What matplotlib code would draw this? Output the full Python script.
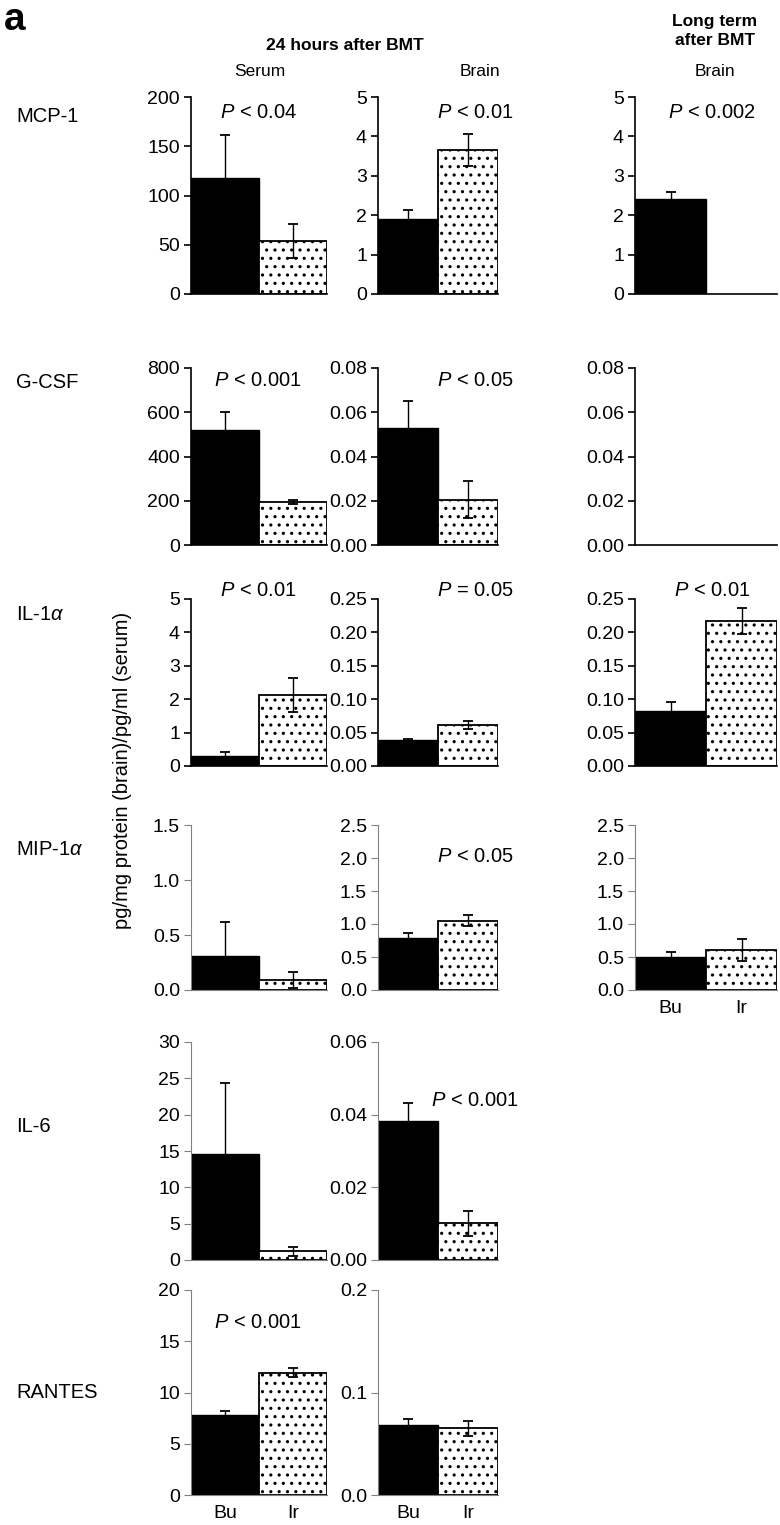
import numpy as np
import matplotlib
matplotlib.use("Agg")
import matplotlib.pyplot as plt

plt.rcParams['font.family'] = ['Liberation Sans', 'DejaVu Sans']
plt.rcParams['mathtext.fontset'] = 'custom'
plt.rcParams['mathtext.rm'] = 'Liberation Sans'
plt.rcParams['mathtext.it'] = 'Liberation Sans:italic'
plt.rcParams['hatch.linewidth'] = 1.1

# Data; order: MCP-1, G-CSF, IL-1a, MIP-1a, IL-6, RANTES
cytokines = ['MCP-1', 'G-CSF', r'IL-1$\alpha$', r'MIP-1$\alpha$', 'IL-6', 'RANTES']
groups = ['Bu', 'Ir']

serum_bu = [118, 520, 0.30, 0.31, 14.6, 7.8]
serum_bu_err = [43, 80, 0.12, 0.31, 9.8, 0.4]
serum_ir = [54, 195, 2.12, 0.09, 1.2, 11.95]
serum_ir_err = [17, 8, 0.50, 0.075, 0.6, 0.45]

brain_bu = [1.9, 0.053, 0.039, 0.79, 0.0383, 0.068]
brain_bu_err = [0.23, 0.012, 0.002, 0.08, 0.005, 0.006]
brain_ir = [3.65, 0.0205, 0.061, 1.05, 0.0101, 0.065]
brain_ir_err = [0.40, 0.0085, 0.006, 0.08, 0.0035, 0.007]

# long term (brain) only first four cytokines; None = no bar
lt_bu = [2.42, None, 0.083, 0.50]
lt_bu_err = [0.18, None, 0.013, 0.08]
lt_ir = [0.0, None, 0.217, 0.61]
lt_ir_err = [0.0, None, 0.019, 0.17]

serum_p = ['< 0.04', '< 0.001', '< 0.01', None, None, '< 0.001']
brain_p = ['< 0.01', '< 0.05', '= 0.05', '< 0.05', '< 0.001', None]
lt_p = ['< 0.002', None, '< 0.01', None]

# y-axis setup per panel: (max, step, format)
serum_axes = [(200, 50, '{:.0f}'), (800, 200, '{:.0f}'), (5, 1, '{:.0f}'),
              (1.5, 0.5, '{:.1f}'), (30, 5, '{:.0f}'), (20, 5, '{:.0f}')]
brain_axes = [(5, 1, '{:.0f}'), (0.08, 0.02, '{:.2f}'), (0.25, 0.05, '{:.2f}'),
              (2.5, 0.5, '{:.1f}'), (0.06, 0.02, '{:.2f}'), (0.2, 0.1, '{:.1f}')]
lt_axes = [(5, 1, '{:.0f}'), (0.08, 0.02, '{:.2f}'), (0.25, 0.05, '{:.2f}'),
           (2.5, 0.5, '{:.1f}')]

W, H = 780, 1525
fig = plt.figure(figsize=(W / 100, H / 100), dpi=100)

col_x = [(191, 327), (378, 498), (635, 777)]
row_y = [(97, 294), (368, 545), (599, 766), (825, 990), (1042, 1260), (1290, 1495)]
row_label_y = [117, 382, 614, 850, 1127, 1392]
p_y = [112, 380, 590, 856, 1100, 1322]
TICK_FS = 14
LABEL_FS = 14.5
P_FS = 14.5
HEAD_FS = 12.5


def panel(ax, bu, bu_err, ir, ir_err, spec, r, bottom):
    ymax, step, fmt = spec
    dark = r < 3
    spine_col = 'black' if dark else '#808080'
    lw = 1.2 if dark else 0.8
    if bu is not None:
        ax.bar(0, bu, width=1, color='black', edgecolor='black', linewidth=1)
        ax.errorbar(0, bu, yerr=bu_err, color='black', capsize=3.5, elinewidth=1, capthick=1.3)
        if ir > 0:
            ax.bar(1, ir, width=1, color='white', edgecolor='black', hatch='..', linewidth=1.3)
            ax.errorbar(1, ir, yerr=ir_err, color='black', capsize=3.5, elinewidth=1, capthick=1.3)
    ax.set_xlim(-0.5, 1.5)
    ax.set_ylim(0, ymax)
    ticks = np.arange(0, ymax + step / 2, step)
    ax.set_yticks(ticks)
    ax.set_yticklabels([fmt.format(t) for t in ticks], fontsize=TICK_FS)
    for s in ['top', 'right']:
        ax.spines[s].set_visible(False)
    for s in ['left', 'bottom']:
        ax.spines[s].set_color(spine_col)
        ax.spines[s].set_linewidth(lw)
    ax.tick_params(axis='y', direction='out', length=5, width=lw, color=spine_col, pad=3)
    if bottom:
        ax.set_xticks([0, 1])
        ax.set_xticklabels(groups, fontsize=TICK_FS)
        ax.tick_params(axis='x', length=0, pad=7)
    else:
        ax.set_xticks([])
    ax.patch.set_alpha(0)


def add_ax(c, r):
    x0, x1 = col_x[c]
    y0, y1 = row_y[r]
    return fig.add_axes([x0 / W, 1 - y1 / H, (x1 - x0) / W, (y1 - y0) / H])


for r in range(6):
    ax = add_ax(0, r)
    panel(ax, serum_bu[r], serum_bu_err[r], serum_ir[r], serum_ir_err[r],
          serum_axes[r], r, r == 5)
    ax = add_ax(1, r)
    panel(ax, brain_bu[r], brain_bu_err[r], brain_ir[r], brain_ir_err[r],
          brain_axes[r], r, r == 5)
    if r < 4:
        ax = add_ax(2, r)
        panel(ax, lt_bu[r], lt_bu_err[r], lt_ir[r], lt_ir_err[r],
              lt_axes[r], r, r == 3)
    fig.text(16 / W, 1 - row_label_y[r] / H, cytokines[r], fontsize=LABEL_FS,
             ha='left', va='center')

# P-value annotations
p_x = [258, 475, 712]
for r in range(6):
    for c, plist in enumerate([serum_p, brain_p, lt_p]):
        if r < len(plist) and plist[r] is not None:
            fig.text(p_x[c] / W, 1 - p_y[r] / H, r'$P$ ' + plist[r], fontsize=P_FS,
                     ha='center', va='center')

# headers
fig.text(4 / W, 1 - 20 / H, 'a', fontsize=28, fontweight='bold', ha='left', va='center')
fig.text(345 / W, 1 - 45 / H, '24 hours after BMT', fontsize=HEAD_FS, fontweight='bold',
         ha='center', va='center')
fig.text(715 / W, 1 - 31 / H, 'Long term\nafter BMT', fontsize=HEAD_FS, fontweight='bold',
         ha='center', va='center', linespacing=1.35)
fig.text(260 / W, 1 - 72 / H, 'Serum', fontsize=HEAD_FS, ha='center', va='center')
fig.text(480 / W, 1 - 72 / H, 'Brain', fontsize=HEAD_FS, ha='center', va='center')
fig.text(715 / W, 1 - 72 / H, 'Brain', fontsize=HEAD_FS, ha='center', va='center')

fig.text(122 / W, 1 - 770 / H, 'pg/mg protein (brain)/pg/ml (serum)', fontsize=LABEL_FS,
         rotation=90, ha='center', va='center')

fig.savefig('out.png', dpi=100)
